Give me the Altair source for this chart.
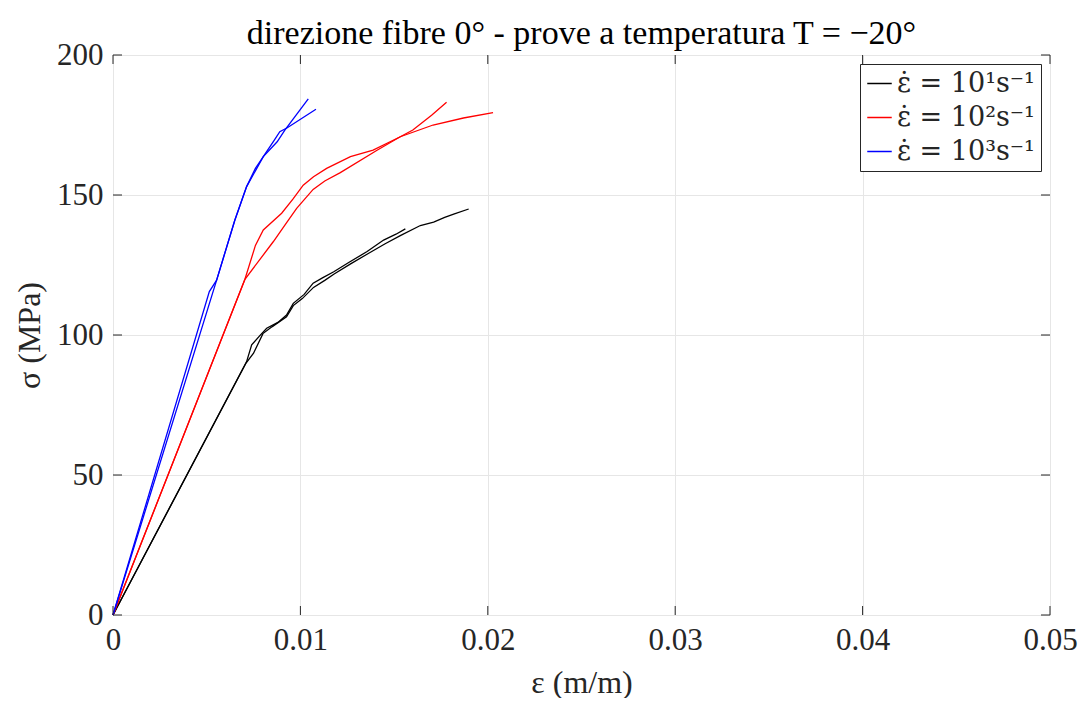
import altair as alt
import pandas as pd

# strain (m/m) and stress (MPa) of each test
k1a_x = [0, 0.00713, 0.0074, 0.0078, 0.0082, 0.0088, 0.00926, 0.00962, 0.0102, 0.01068, 0.0112, 0.01178, 0.0126, 0.01356, 0.01444, 0.0151, 0.0156]
k1a_y = [0, 90.5, 96.5, 99.5, 102.4, 104.5, 107.1, 111.3, 114.5, 118.5, 120.5, 122.6, 126.0, 129.8, 133.9, 136.0, 137.9]
k1b_x = [0, 0.0071, 0.0075, 0.008, 0.0085, 0.00926, 0.00962, 0.0101, 0.0107, 0.0113, 0.0118, 0.0127, 0.0136, 0.0145, 0.01533, 0.0164, 0.01711, 0.0177, 0.01818, 0.01898]
k1b_y = [0, 90.0, 93.5, 100.5, 103.0, 106.5, 110.5, 113.0, 117.0, 119.5, 121.8, 125.5, 129.0, 132.5, 135.5, 139.1, 140.3, 142.0, 143.2, 145.0]

r2a_x = [0, 0.00704, 0.0076, 0.00802, 0.009, 0.0096, 0.01015, 0.0107, 0.0114, 0.01267, 0.01388, 0.01533, 0.01708, 0.01870, 0.02028]
r2a_y = [0, 119.9, 132.0, 137.5, 143.5, 148.5, 153.5, 156.5, 159.5, 163.7, 166.0, 170.8, 175.0, 177.5, 179.4]
r2b_x = [0, 0.00704, 0.00855, 0.0092, 0.0098, 0.01068, 0.0113, 0.01213, 0.01409, 0.01533, 0.016, 0.0170, 0.0178]
r2b_y = [0, 119.9, 133.3, 139.5, 145.2, 152.0, 155.0, 158.0, 166.0, 170.8, 173.2, 178.5, 183.1]

b3a_x = [0, 0.00514, 0.00553, 0.0065, 0.00713, 0.00802, 0.0086, 0.0089, 0.0093, 0.01083]
b3a_y = [0, 115.5, 119.6, 141.0, 153.0, 163.7, 169.5, 172.6, 174.0, 180.6]
b3b_x = [0, 0.00553, 0.0065, 0.00713, 0.0076, 0.00802, 0.00876, 0.00917, 0.01042]
b3b_y = [0, 119.6, 141.0, 153.0, 159.5, 163.7, 169.0, 173.2, 184.3]

labels = ["ε̇ = 10¹s⁻¹", "ε̇ = 10²s⁻¹", "ε̇ = 10³s⁻¹"]
colors = ["#000000", "#ff0000", "#0000ff"]
x_ticks = [0, 0.01, 0.02, 0.03, 0.04, 0.05]
y_ticks = [0, 50, 100, 150, 200]

rows = []
for test, lab, xs, ys in [("k1a", labels[0], k1a_x, k1a_y), ("k1b", labels[0], k1b_x, k1b_y),
                          ("r2a", labels[1], r2a_x, r2a_y), ("r2b", labels[1], r2b_x, r2b_y),
                          ("b3a", labels[2], b3a_x, b3a_y), ("b3b", labels[2], b3b_x, b3b_y)]:
    for i, (x, y) in enumerate(zip(xs, ys)):
        rows.append({"test": test, "rate": lab, "strain": x, "stress": y, "order": i})
df = pd.DataFrame(rows)

FONT = "Liberation Serif"
W, H = 937, 560

xs = alt.Scale(domain=[0, 0.05], nice=False)
ys = alt.Scale(domain=[0, 200], nice=False)

lines = alt.Chart(df).mark_line(strokeWidth=1.3).encode(
    x=alt.X("strain:Q", scale=xs,
            axis=alt.Axis(values=x_ticks, format="~g", title="ε (m/m)", grid=True,
                          gridColor="#e6e6e6", ticks=False, domain=False, labelFlush=False,
                          labelFontSize=31, labelColor="#262626", labelPadding=10,
                          titleFontSize=32, titleFontWeight="normal", titleColor="#262626",
                          titlePadding=12, labelFont=FONT, titleFont=FONT)),
    y=alt.Y("stress:Q", scale=ys,
            axis=alt.Axis(values=y_ticks, title="σ (MPa)", grid=True, gridColor="#e6e6e6",
                          ticks=False, domain=False, labelFlush=False, labelFontSize=31,
                          labelColor="#262626", labelPadding=10, titleFontSize=32,
                          titleFontWeight="normal", titleColor="#262626", titlePadding=10,
                          labelFont=FONT, titleFont=FONT)),
    color=alt.Color("rate:N", scale=alt.Scale(domain=labels, range=colors),
                    legend=alt.Legend(title=None, orient="top-right", offset=9,
                                      fillColor="white", strokeColor="#262626",
                                      padding=6, symbolType="stroke", symbolSize=600,
                                      symbolStrokeWidth=1.5, labelFontSize=27,
                                      labelFont="DejaVu Serif", labelColor="#262626",
                                      rowPadding=6, labelOffset=4)),
    detail="test:N",
    order="order:Q",
)

tick_df_x = pd.DataFrame({"v": x_ticks})
tick_df_y = pd.DataFrame({"v": y_ticks})
xt_bottom = alt.Chart(tick_df_x).mark_rule(color="#262626", strokeWidth=1).encode(
    x=alt.X("v:Q", scale=xs), y=alt.value(H), y2=alt.value(H - 9))
xt_top = alt.Chart(tick_df_x).mark_rule(color="#262626", strokeWidth=1).encode(
    x=alt.X("v:Q", scale=xs), y=alt.value(0), y2=alt.value(9))
yt_left = alt.Chart(tick_df_y).mark_rule(color="#262626", strokeWidth=1).encode(
    y=alt.Y("v:Q", scale=ys), x=alt.value(0), x2=alt.value(9))
yt_right = alt.Chart(tick_df_y).mark_rule(color="#262626", strokeWidth=1).encode(
    y=alt.Y("v:Q", scale=ys), x=alt.value(W), x2=alt.value(W - 9))

chart = alt.layer(lines, xt_bottom, xt_top, yt_left, yt_right).properties(
    width=W, height=H,
    title=alt.TitleParams("direzione fibre 0° - prove a temperatura T = −20°",
                          font=FONT, fontSize=34, fontWeight="normal", color="#000000",
                          offset=8, dy=20, anchor="middle"),
    autosize=alt.AutoSizeParams(type="none"),
    padding={"left": 105, "top": 47, "right": 32, "bottom": 83},
).configure_view(stroke="#262626", strokeWidth=1).configure(background="white")

chart.save("out.html", embed_options={"renderer": "svg", "actions": False})
